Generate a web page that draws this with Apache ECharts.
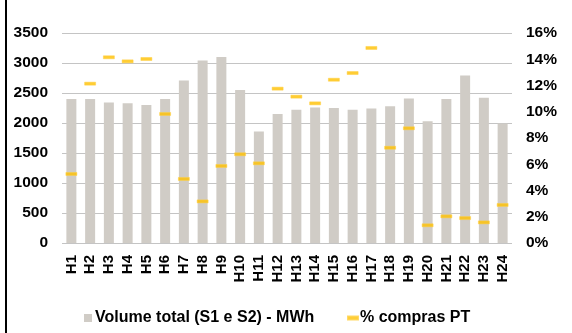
<!DOCTYPE html>
<html>
<head>
<meta charset="utf-8">
<script src="https://cdn.jsdelivr.net/npm/echarts@6/dist/echarts.min.js"></script>
<style>
html,body{margin:0;padding:0;background:#fff;}
#c{width:572px;height:333px;}
</style>
</head>
<body>
<div id="c"></div>
<script>
var categories = ['H1','H2','H3','H4','H5','H6','H7','H8','H9','H10','H11','H12','H13','H14','H15','H16','H17','H18','H19','H20','H21','H22','H23','H24'];
var volumeTotal = [2400,2400,2340,2330,2300,2400,2710,3040,3100,2550,1860,2150,2220,2260,2250,2220,2240,2280,2410,2030,2400,2790,2420,1990];
var comprasPT = [5.26,12.14,14.15,13.84,14.02,9.83,4.88,3.17,5.87,6.76,6.07,11.76,11.15,10.64,12.44,12.95,14.86,7.26,8.74,1.35,2.03,1.90,1.57,2.90];
var leftTicks = [0,500,1000,1500,2000,2500,3000,3500];
var rightTicks = [0,2,4,6,8,10,12,14,16];

var FONT = '"Liberation Sans", Arial, sans-serif';
var chart = echarts.init(document.getElementById('c'), null, {renderer:'canvas'});
chart.setOption({
  animation:false,
  backgroundColor:'#ffffff',
  textStyle:{fontFamily:FONT},
  grid:{left:62,right:60,top:33,bottom:90,containLabel:false},
  graphic:[{type:'rect',left:5,top:0,shape:{width:2,height:333},style:{fill:'#000'}}],
  legend:[{
    data:[{name:'Volume total (S1 e S2) - MWh',icon:'rect'}],
    left:79, top:305, itemWidth:8, itemHeight:8, itemGap:10,
    textStyle:{fontFamily:FONT,fontWeight:'bold',fontSize:16,color:'#000',padding:[0,0,0,-2]}
  },{
    data:[{name:'% compras PT',icon:'rect'}],
    left:342, top:305, itemWidth:10, itemHeight:3,
    textStyle:{fontFamily:FONT,fontWeight:'bold',fontSize:16,color:'#000',padding:[0,0,0,-3]}
  }],
  xAxis:{
    type:'category', data:categories,
    axisLine:{show:false}, axisTick:{show:false},
    axisLabel:{rotate:90, margin:12, fontFamily:FONT, fontWeight:'bold', fontSize:15, color:'#000', interval:0}
  },
  yAxis:[{
    type:'value', min:leftTicks[0], max:leftTicks[leftTicks.length-1], interval:500,
    axisLine:{show:false}, axisTick:{show:false},
    splitLine:{lineStyle:{color:'#C4C4C4',width:1}},
    axisLabel:{margin:14, fontFamily:FONT, fontWeight:'bold', fontSize:15.5, color:'#000', formatter:function(v){return String(v);}}
  },{
    type:'value', min:rightTicks[0], max:rightTicks[rightTicks.length-1], interval:2,
    axisLine:{show:false}, axisTick:{show:false}, splitLine:{show:false},
    axisLabel:{margin:14, fontFamily:FONT, fontWeight:'bold', fontSize:15.5, color:'#000', formatter:'{value}%'}
  }],
  series:[{
    name:'Volume total (S1 e S2) - MWh', type:'bar', data:volumeTotal,
    barWidth:10, itemStyle:{color:'#D0CCC6'}, yAxisIndex:0
  },{
    name:'% compras PT', type:'scatter', data:comprasPT, yAxisIndex:1,
    symbol:'rect', symbolSize:[11,3], itemStyle:{color:'#FFC000', borderColor:'#FFD040', borderWidth:0.5}
  }]
});
</script>
</body>
</html>
